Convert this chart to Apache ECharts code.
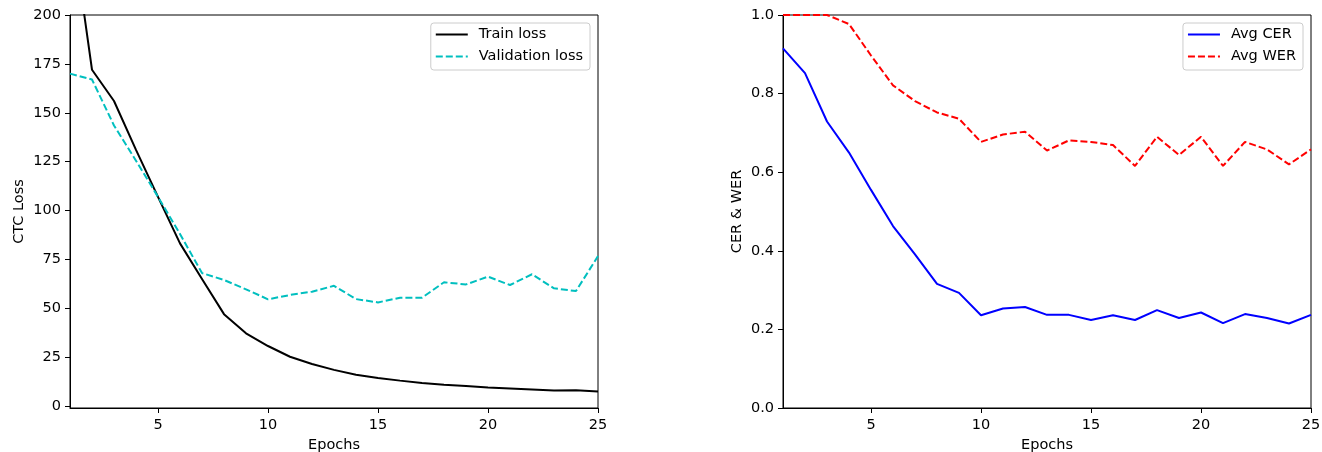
<!DOCTYPE html>
<html>
<head>
<meta charset="utf-8">
<script src="https://cdn.jsdelivr.net/npm/echarts@6/dist/echarts.min.js"></script>
<style>
  html, body { margin: 0; padding: 0; background: #fff; }
  #main { width: 1322px; height: 452px; }
</style>
</head>
<body>
<div id="main"></div>
<script>
var epochs = [1, 2, 3, 4, 5, 6, 7, 8, 9, 10, 11, 12, 13, 14, 15, 16, 17, 18, 19, 20, 21, 22, 23, 24, 25];

var trainLoss = [252, 172, 156, 131, 107, 83.2, 65, 47, 37.2, 30.7, 25.2, 21.5, 18.5, 16.0, 14.3,
                 13.0, 11.8, 10.9, 10.2, 9.5, 9.0, 8.5, 7.9, 8.1, 7.5];
var valLoss = [170, 167, 143.5, 125.5, 107, 88, 68, 64.5, 59.7, 54.6, 56.8, 58.5, 61.5, 54.7, 53.0,
               55.4, 55.4, 63.3, 62.2, 66.2, 61.9, 67.4, 60.2, 58.8, 76.7];

var avgCER = [0.915, 0.852, 0.729, 0.650, 0.555, 0.463, 0.391, 0.316, 0.293, 0.236, 0.253, 0.257, 0.237,
              0.237, 0.224, 0.236, 0.224, 0.249, 0.229, 0.243, 0.216, 0.239, 0.229, 0.215, 0.237];
var avgWER = [1.0, 1.0, 1.0, 0.977, 0.897, 0.821, 0.781, 0.752, 0.736, 0.677, 0.696, 0.703, 0.655,
              0.681, 0.677, 0.669, 0.616, 0.690, 0.644, 0.690, 0.616, 0.677, 0.658, 0.620, 0.658];

var xTicks = [5, 10, 15, 20, 25];
var lossTicks = [0, 25, 50, 75, 100, 125, 150, 175, 200];

function pairs(ys) {
  return epochs.map(function (e, i) { return [e, ys[i]]; });
}

var FONT = 'DejaVu Sans';
var txt = { color: '#000', fontFamily: FONT, fontSize: 14.5 };

function xAxisFor(gridIndex) {
  return {
    gridIndex: gridIndex,
    type: 'value',
    min: 1,
    max: 25,
    name: 'Epochs',
    nameLocation: 'middle',
    nameGap: 30,
    nameTextStyle: txt,
    axisLine: { show: true, onZero: false, lineStyle: { color: '#000', width: 1 } },
    axisTick: { show: true, length: 5, customValues: xTicks, lineStyle: { color: '#000' } },
    axisLabel: Object.assign({ margin: 10, customValues: xTicks }, txt),
    splitLine: { show: false }
  };
}

var legendBox = {
  orient: 'vertical',
  backgroundColor: 'rgba(255,255,255,0.8)',
  borderColor: '#cccccc',
  borderWidth: 1,
  borderRadius: 3,
  padding: [4, 7, 6, 4],
  itemGap: 7,
  itemWidth: 32,
  itemHeight: 15,
  itemStyle: { opacity: 0 },
  textStyle: Object.assign({ padding: [0, 0, 0, 6] }, txt)
};

var chart = echarts.init(document.getElementById('main'));
var option = {
  animation: false,
  backgroundColor: '#fff',
  grid: [
    { left: 70, top: 15, width: 528, height: 393, outerBoundsMode: 'none',
      show: true, borderColor: '#000', borderWidth: 1 },
    { left: 783, top: 15, width: 528, height: 393, outerBoundsMode: 'none',
      show: true, borderColor: '#000', borderWidth: 1 }
  ],
  legend: [
    Object.assign({}, legendBox, { data: ['Train loss', 'Validation loss'], right: 732, top: 23 }),
    Object.assign({}, legendBox, { data: ['Avg CER', 'Avg WER'], right: 19, top: 23 })
  ],
  xAxis: [xAxisFor(0), xAxisFor(1)],
  yAxis: [
    {
      gridIndex: 0,
      type: 'value',
      min: -1,
      max: 200,
      name: 'CTC Loss',
      nameLocation: 'middle',
      nameGap: 43,
      nameTextStyle: txt,
      axisLine: { show: true, lineStyle: { color: '#000', width: 1 } },
      axisTick: { show: true, length: 5, customValues: lossTicks, lineStyle: { color: '#000' } },
      axisLabel: Object.assign({ margin: 9, customValues: lossTicks }, txt),
      splitLine: { show: false }
    },
    {
      gridIndex: 1,
      type: 'value',
      min: 0,
      max: 1,
      interval: 0.2,
      name: 'CER & WER',
      nameLocation: 'middle',
      nameGap: 38,
      nameTextStyle: txt,
      axisLine: { show: true, lineStyle: { color: '#000', width: 1 } },
      axisTick: { show: true, length: 5, lineStyle: { color: '#000' } },
      axisLabel: Object.assign({
        margin: 9,
        formatter: function (v) { return v.toFixed(1); }
      }, txt),
      splitLine: { show: false }
    }
  ],
  series: [
    {
      name: 'Train loss', type: 'line', xAxisIndex: 0, yAxisIndex: 0,
      data: pairs(trainLoss), symbol: 'none', clip: true,
      lineStyle: { color: '#000000', width: 2 }, itemStyle: { color: '#000000' }
    },
    {
      name: 'Validation loss', type: 'line', xAxisIndex: 0, yAxisIndex: 0,
      data: pairs(valLoss), symbol: 'none', clip: true,
      lineStyle: { color: '#00bfbf', width: 2, type: [7, 3] }, itemStyle: { color: '#00bfbf' }
    },
    {
      name: 'Avg CER', type: 'line', xAxisIndex: 1, yAxisIndex: 1,
      data: pairs(avgCER), symbol: 'none', clip: true,
      lineStyle: { color: '#0000ff', width: 2 }, itemStyle: { color: '#0000ff' }
    },
    {
      name: 'Avg WER', type: 'line', xAxisIndex: 1, yAxisIndex: 1,
      data: pairs(avgWER), symbol: 'none', clip: true,
      lineStyle: { color: '#ff0000', width: 2, type: [7, 3] }, itemStyle: { color: '#ff0000' }
    }
  ]
};

chart.setOption(option);
</script>
</body>
</html>
